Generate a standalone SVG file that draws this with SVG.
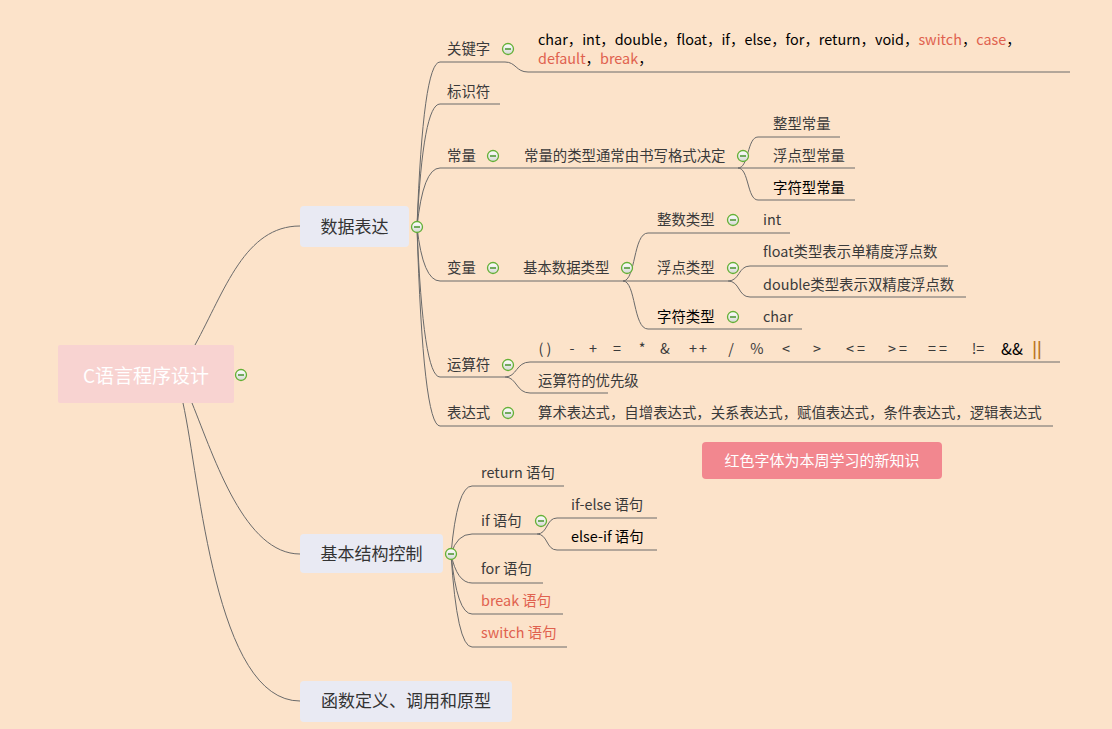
<svg xmlns="http://www.w3.org/2000/svg" width="1112" height="729" viewBox="0 0 1112 729">
<defs>
<linearGradient id="cg" x1="0" y1="0" x2="0" y2="1"><stop offset="0" stop-color="#ffffff"/><stop offset="1" stop-color="#d4d8d4"/></linearGradient>
<g id="col"><circle r="5.5" fill="url(#cg)" stroke="#64B036" stroke-width="1.3"/><line x1="-3" y1="0" x2="3" y2="0" stroke="#3E8E22" stroke-width="1.4"/></g>
<style>
text{font-family:"Noto Sans CJK SC","Noto Sans",sans-serif;}
.t{font-size:14.4px;fill:#3a3a3a;}
.k{fill:#000;}
.r{fill:#E0614E;}
.m{font-size:17px;fill:#333;text-anchor:middle;}
.root{font-size:19px;fill:#fff;text-anchor:middle;}
.note{font-size:15px;fill:#fff;text-anchor:middle;}
.ul{stroke:#6a6a6a;stroke-width:1;fill:none;}
.c{stroke:#6a6a6a;stroke-width:1;fill:none;}
.op{font-size:14.4px;fill:#3a3a3a;text-anchor:middle;}
</style>
</defs>
<rect width="1112" height="729" fill="#FCE3CA"/>

<g id="connectors">
<path class="c" d="M195,345 C225,290 245,226 300,226"/>
<path class="c" d="M192,403 C215,460 245,554 300,554"/>
<path class="c" d="M183,403 C200,480 215,701 300,701"/>
<path class="c" d="M417,227 Q423,62 440,62"/>
<path class="c" d="M417,227 Q423,104 440,104"/>
<path class="c" d="M417,227 Q423,168 440,168"/>
<path class="c" d="M417,227 Q423,281 440,281"/>
<path class="c" d="M417,227 Q423,377 440,377"/>
<path class="c" d="M417,227 Q423,426 440,426"/>
<path class="c" d="M505,62 C516,62 516,72 528,72"/>
<path class="c" d="M738,168 C749,168 747,137 758,137"/>
<path class="c" d="M738,168 C749,168 747,200 758,200"/>
<path class="c" d="M623,281 C636,281 633,233 648,233"/>
<path class="c" d="M623,281 C636,281 633,329 648,329"/>
<path class="c" d="M728,281 C740,281 738,266 750,266"/>
<path class="c" d="M728,281 C740,281 738,297 750,297"/>
<path class="c" d="M505,377 C517,377 516,362 530,362"/>
<path class="c" d="M505,377 C517,377 516,393 530,393"/>
<path class="c" d="M451,554 Q457,486 472,486"/>
<path class="c" d="M451,554 Q457,534 472,534"/>
<path class="c" d="M451,554 Q457,583 472,583"/>
<path class="c" d="M451,554 Q457,614 472,614"/>
<path class="c" d="M451,554 Q457,647 472,647"/>
<path class="c" d="M537,534 C548,534 546,518 557,518"/>
<path class="c" d="M537,534 C548,534 546,550 557,550"/>
</g>

<g id="root">
<rect x="58" y="345" width="176" height="58" rx="2" fill="#F8D3D1"/>
<text class="root" x="146" y="383">C语言程序设计</text>
<use href="#col" x="241" y="375"/>
</g>

<g id="n-data">
<rect x="300" y="206" width="109" height="41" rx="4" fill="#E9EAF3"/>
<text class="m" x="354.5" y="233">数据表达</text>
<use href="#col" x="417" y="227"/>
</g>

<g id="n-keyword">
<line class="ul" x1="440" y1="62" x2="505" y2="62"/>
<text class="t" x="447" y="54">关键字</text>
<use href="#col" x="508" y="49"/>
</g>
<g id="n-keywords">
<line class="ul" x1="528" y1="72" x2="1070" y2="72"/>
<text class="t" x="538" y="45" fill="#000"><tspan class="k">char，int，double，float，if，else，for，return，void，</tspan><tspan class="r">switch</tspan><tspan class="k">，</tspan><tspan class="r">case</tspan><tspan class="k">，</tspan></text>
<text class="t" x="538" y="64"><tspan class="r">default</tspan><tspan class="k">，</tspan><tspan class="r">break</tspan><tspan class="k">，</tspan></text>
</g>

<g id="n-ident">
<line class="ul" x1="440" y1="104" x2="500" y2="104"/>
<text class="t" x="447" y="97">标识符</text>
</g>

<g id="n-const">
<line class="ul" x1="440" y1="168" x2="512" y2="168"/>
<text class="t" x="447" y="161">常量</text>
<use href="#col" x="493" y="156"/>
</g>
<g id="n-const-type">
<line class="ul" x1="512" y1="168" x2="738" y2="168"/>
<text class="t" x="524" y="161">常量的类型通常由书写格式决定</text>
<use href="#col" x="743" y="156"/>
</g>
<g id="n-int-const">
<line class="ul" x1="758" y1="137" x2="840" y2="137"/>
<text class="t" x="773" y="129">整型常量</text>
</g>
<g id="n-float-const">
<line class="ul" x1="738" y1="168" x2="855" y2="168"/>
<text class="t" x="773" y="161">浮点型常量</text>
</g>
<g id="n-char-const">
<line class="ul" x1="758" y1="200" x2="855" y2="200"/>
<text class="t k" x="773" y="193">字符型常量</text>
</g>

<g id="n-var">
<line class="ul" x1="440" y1="281" x2="512" y2="281"/>
<text class="t" x="447" y="273">变量</text>
<use href="#col" x="493" y="268"/>
</g>
<g id="n-basic-type">
<line class="ul" x1="512" y1="281" x2="623" y2="281"/>
<text class="t" x="523" y="273">基本数据类型</text>
<use href="#col" x="627" y="268"/>
</g>
<g id="n-integer">
<line class="ul" x1="648" y1="233" x2="748" y2="233"/>
<text class="t" x="657" y="225">整数类型</text>
<use href="#col" x="733" y="220"/>
</g>
<g id="n-int">
<line class="ul" x1="748" y1="233" x2="790" y2="233"/>
<text class="t" x="763" y="225">int</text>
</g>
<g id="n-floating">
<line class="ul" x1="623" y1="281" x2="728" y2="281"/>
<text class="t" x="657" y="273">浮点类型</text>
<use href="#col" x="733" y="268"/>
</g>
<g id="n-float">
<line class="ul" x1="750" y1="266" x2="948" y2="266"/>
<text class="t" x="763" y="257">float类型表示单精度浮点数</text>
</g>
<g id="n-double">
<line class="ul" x1="750" y1="297" x2="966" y2="297"/>
<text class="t" x="763" y="290">double类型表示双精度浮点数</text>
</g>
<g id="n-chartype">
<line class="ul" x1="648" y1="329" x2="748" y2="329"/>
<text class="t k" x="657" y="322">字符类型</text>
<use href="#col" x="733" y="317"/>
</g>
<g id="n-char">
<line class="ul" x1="748" y1="329" x2="802" y2="329"/>
<text class="t" x="763" y="322">char</text>
</g>

<g id="n-operator">
<line class="ul" x1="440" y1="377" x2="505" y2="377"/>
<text class="t" x="447" y="370">运算符</text>
<use href="#col" x="508" y="365"/>
</g>
<g id="n-ops">
<line class="ul" x1="530" y1="362" x2="1060" y2="362"/>
<text class="op" x="545" y="354">( )</text>
<text class="op" x="572" y="354">-</text>
<text class="op" x="593" y="354">+</text>
<text class="op" x="617" y="354">=</text>
<text class="op" x="642" y="354">*</text>
<text class="op" x="665" y="354">&amp;</text>
<text class="op" x="699" y="354" letter-spacing="2">++</text>
<text class="op" x="731" y="354">/</text>
<text class="op" x="757" y="354">%</text>
<text class="op" x="786" y="354">&lt;</text>
<text class="op" x="817" y="354">&gt;</text>
<text class="op" x="857" y="354" letter-spacing="3">&lt;=</text>
<text class="op" x="899" y="354" letter-spacing="3">&gt;=</text>
<text class="op" x="939" y="354" letter-spacing="3">==</text>
<text class="op" x="978" y="354">!=</text>
<text class="op" x="1012" y="355" style="fill:#000;font-size:16px">&amp;&amp;</text>
<text class="op" x="1037" y="355" style="fill:#B9731E;font-size:16px;font-weight:bold">||</text>
</g>
<g id="n-priority">
<line class="ul" x1="530" y1="393" x2="608" y2="393"/>
<text class="t" x="538" y="386">运算符的优先级</text>
</g>

<g id="n-expr">
<line class="ul" x1="440" y1="426" x2="520" y2="426"/>
<text class="t" x="447" y="418">表达式</text>
<use href="#col" x="508" y="413"/>
</g>
<g id="n-expr-list">
<line class="ul" x1="520" y1="426" x2="1053" y2="426"/>
<text class="t" x="538" y="418">算术表达式，自增表达式，关系表达式，赋值表达式，条件表达式，逻辑表达式</text>
</g>

<g id="note">
<rect x="702" y="442" width="240" height="37" rx="4" fill="#F2878F"/>
<text class="note" x="822" y="466">红色字体为本周学习的新知识</text>
</g>

<g id="n-control">
<rect x="300" y="534" width="143" height="39" rx="4" fill="#E9EAF3"/>
<text class="m" x="371.5" y="560">基本结构控制</text>
<use href="#col" x="451" y="554"/>
</g>
<g id="n-return">
<line class="ul" x1="472" y1="486" x2="564" y2="486"/>
<text class="t" x="481" y="478">return 语句</text>
</g>
<g id="n-if">
<line class="ul" x1="472" y1="534" x2="537" y2="534"/>
<text class="t" x="481" y="526">if 语句</text>
<use href="#col" x="541" y="521"/>
</g>
<g id="n-ifelse">
<line class="ul" x1="557" y1="518" x2="657" y2="518"/>
<text class="t" x="571" y="510">if-else 语句</text>
</g>
<g id="n-elseif">
<line class="ul" x1="557" y1="550" x2="657" y2="550"/>
<text class="t k" x="571" y="542">else-if 语句</text>
</g>
<g id="n-for">
<line class="ul" x1="472" y1="583" x2="543" y2="583"/>
<text class="t" x="481" y="574">for 语句</text>
</g>
<g id="n-break">
<line class="ul" x1="472" y1="614" x2="563" y2="614"/>
<text class="t r" x="481" y="606">break 语句</text>
</g>
<g id="n-switch">
<line class="ul" x1="472" y1="647" x2="567" y2="647"/>
<text class="t r" x="481" y="638">switch 语句</text>
</g>

<g id="n-func">
<rect x="300" y="681" width="212" height="41" rx="4" fill="#E9EAF3"/>
<text class="m" x="406" y="707">函数定义、调用和原型</text>
</g>
</svg>
